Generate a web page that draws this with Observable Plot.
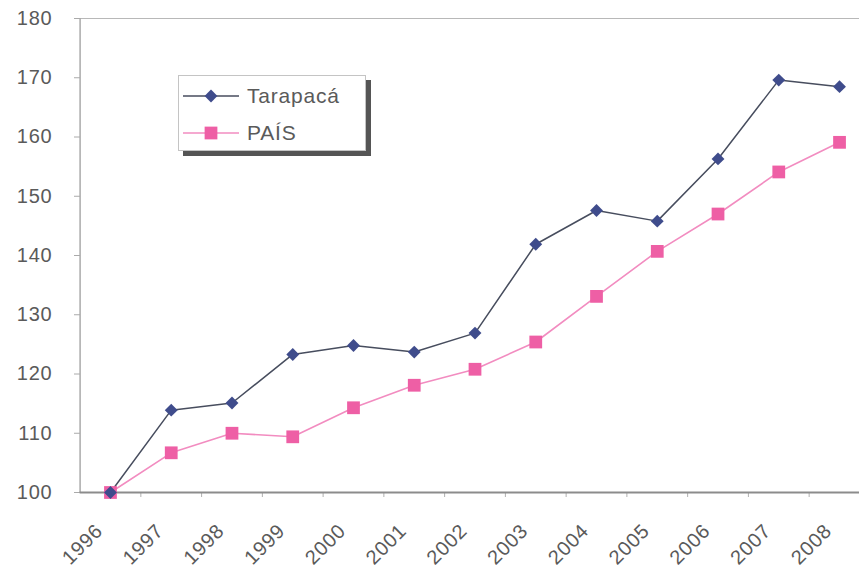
<!DOCTYPE html>
<html><head><meta charset="utf-8">
<script src="https://cdn.jsdelivr.net/npm/d3@7"></script>
<script src="https://cdn.jsdelivr.net/npm/@observablehq/plot@0.6"></script>
<style>
html,body{margin:0;padding:0;background:#fff;overflow:hidden;}
#wrap{position:relative;width:859px;height:572px;overflow:hidden;background:#fff;}
#chart svg text{letter-spacing:0.8px;}
#legend{position:absolute;left:178px;top:75px;width:186px;height:74px;border:1px solid #c4c4c4;background:#fff;box-shadow:5px 5px 0 #555;}
</style></head><body>
<div id="wrap"><div id="chart"></div><div id="legend"></div></div>
<script>
const years = [1996,1997,1998,1999,2000,2001,2002,2003,2004,2005,2006,2007,2008];
const tarapaca = [100,113.9,115.1,123.3,124.8,123.7,126.9,141.9,147.6,145.8,156.3,169.6,168.5];
const pais = [100,106.7,110.0,109.4,114.3,118.1,120.8,125.4,133.1,140.7,147.0,154.1,159.1];
const yTicks = [100,110,120,130,140,150,160,170,180];
const seriesNames = ["Tarapacá","PAÍS"];
const lineColors = ["#474d5e","#f28cc0"];
const markColors = ["#3f4c8c","#ee5fa5"];

const bounds = years.map(y => y - 0.5).concat([years[years.length-1] + 0.5]);
const x0 = bounds[0], x1 = bounds[bounds.length-1];
const font = "Liberation Sans, Arial, sans-serif";

const chart = Plot.plot({
  width: 859, height: 572,
  marginLeft: 80, marginTop: 18, marginBottom: 80, marginRight: 0,
  x: {domain: [x0, x1], range: [79.6, 869.4]},
  y: {domain: [100, 180], range: [492, 18]},
  style: {fontFamily: font, fontSize: "20px", color: "#555", background: "#fff", overflow: "hidden"},
  marks: [
    Plot.ruleY([180], {x1: x0, x2: x1, stroke: "#b8b8b8", strokeWidth: 1.2}),
    Plot.ruleX([x0], {y1: 100, y2: 180, stroke: "#aaa", strokeWidth: 1.5}),
    Plot.axisY(yTicks, {tickSize: 6, tickPadding: 22, stroke: "#aaa", fill: "#5a5a5a", fontSize: 20, label: null, tickFormat: d => String(d)}),
    Plot.axisX(bounds.slice(1), {tickSize: 5, stroke: "#b0b0b0", tickFormat: () => "", label: null}),
    Plot.ruleY([100], {x1: x0, x2: x1, stroke: "#8c8c8c", strokeWidth: 2}),
    Plot.text(years, {x: d => d, y: () => 100, text: d => String(d), rotate: -45, textAnchor: "end", dx: -11, dy: 35, fill: "#5a5a5a", fontSize: 20}),
    Plot.line(pais, {x: years, y: pais, stroke: lineColors[1], strokeWidth: 1.6}),
    Plot.line(tarapaca, {x: years, y: tarapaca, stroke: lineColors[0], strokeWidth: 1.5}),
    Plot.dot(pais, {x: years, y: pais, symbol: "square", r: 7.2, fill: markColors[1], stroke: "none"}),
    Plot.dot(tarapaca, {x: years, y: tarapaca, symbol: "diamond2", r: 5.8, fill: markColors[0], stroke: "none"})
  ]
});
document.getElementById("chart").appendChild(chart);

// legend
const lg = d3.select("#legend").append("svg").attr("width", 186).attr("height", 74);
const rowsY = [20, 57];
seriesNames.forEach((name, i) => {
  const g = lg.append("g").attr("transform", `translate(0,${rowsY[i]})`);
  g.append("line").attr("x1", 4).attr("x2", 60).attr("y1", 0).attr("y2", 0)
    .attr("stroke", lineColors[i]).attr("stroke-width", 1.6);
  if (i === 0) {
    g.append("path").attr("d", d3.symbol(d3.symbolDiamond2, Math.PI * 5.8 * 5.8)()).attr("transform", "translate(32,0)").attr("fill", markColors[i]);
  } else {
    g.append("path").attr("d", d3.symbol(d3.symbolSquare, Math.PI * 7.2 * 7.2)()).attr("transform", "translate(32,0)").attr("fill", markColors[i]);
  }
  g.append("text").attr("x", 68).attr("y", 0).attr("dy", "0.35em")
    .attr("font-family", font).attr("font-size", 21).attr("fill", "#5a5a5a")
    .attr("letter-spacing", "0.8px").text(name);
});
</script>
</body></html>
